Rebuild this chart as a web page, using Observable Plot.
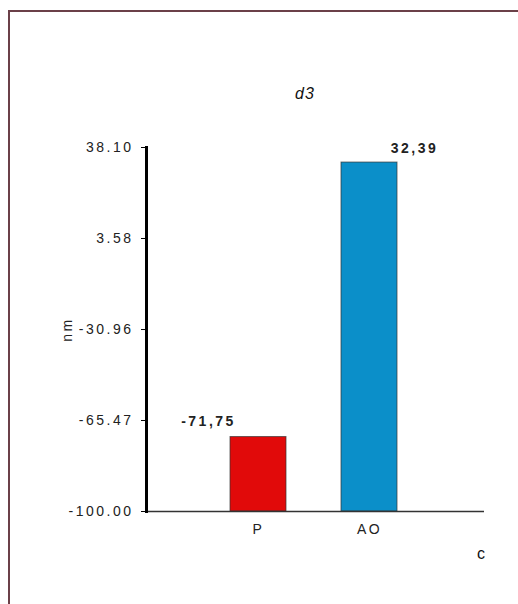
<!DOCTYPE html>
<html>
<head>
<meta charset="utf-8">
<script src="https://cdn.jsdelivr.net/npm/d3@7"></script>
<script src="https://cdn.jsdelivr.net/npm/@observablehq/plot@0.6"></script>
<style>
  html, body { margin: 0; padding: 0; background: #fff; width: 518px; height: 604px; overflow: hidden; }
  #frame { position: absolute; left: 8px; top: 10px; width: 520px; height: 600px;
           border-top: 2px solid #6b4048; border-left: 2px solid #6b4048; }
  #chart { position: absolute; left: 0; top: 0; }
  #title { position: absolute; left: 285px; top: 85px; width: 40px; text-align: center;
           font: italic 16px "Liberation Sans", Arial, sans-serif; color: #111; letter-spacing: 1px; }
  #corner { position: absolute; left: 477px; top: 545px;
            font: 16px "Liberation Sans", Arial, sans-serif; color: #111; }
</style>
</head>
<body>
<div id="frame"></div>
<div id="chart"></div>
<div id="title">d3</div>
<div id="corner">c</div>
<script>
const categories = ["P", "AO"];
const values = [-71.75, 32.39];
const valueLabels = ["-71,75", "32,39"];
const barColors = ["#e10a0a", "#0b8fc9"];
const yTicks = [38.10, 3.58, -30.96, -65.47, -100.00];
const yTickLabels = ["38.10", "3.58", "-30.96", "-65.47", "-100.00"];
const yLabel = "nm";

const data = categories.map((c, i) => ({cat: c, value: values[i], label: valueLabels[i], color: barColors[i]}));
const yMin = d3.min(yTicks), yMax = d3.max(yTicks);

const plot = Plot.plot({
  width: 518,
  height: 560,
  marginTop: 147,
  marginBottom: 49,
  marginLeft: 146,
  marginRight: 34,
  style: {fontFamily: "Liberation Sans, Arial, sans-serif", background: "transparent", letterSpacing: "2.5px"},
  x: {domain: categories, paddingInner: 0.5, paddingOuter: 0.76, align: 0.488},
  y: {domain: [yMin, yMax]},
  marks: [
    Plot.barY(data, {x: "cat", y1: () => yMin, y2: "value", fill: "color", stroke: "#333", strokeWidth: 1, strokeOpacity: 0.7}),
    Plot.ruleY([yMin], {stroke: "#333", strokeWidth: 1.5}),
    Plot.frame({anchor: "left", stroke: "#000", strokeWidth: 3}),
    Plot.axisY({ticks: yTicks, tickFormat: (d) => yTickLabels[yTicks.indexOf(d)], tickSize: 5, tickPadding: 8,
      fontSize: 14, fill: "#222", label: yLabel, labelAnchor: "center", labelOffset: 84, labelArrow: "none"}),
    Plot.axisX({tickSize: 0, tickPadding: 13, fontSize: 14, fill: "#222", label: null}),
    Plot.text(data.filter(d => d.cat === "P"), {x: "cat", y: "value", text: "label", dx: -50, dy: -16, fontSize: 14, fontWeight: "bold", fill: "#222"}),
    Plot.text(data.filter(d => d.cat === "AO"), {x: "cat", y: "value", text: "label", dx: 45, dy: -14, fontSize: 14, fontWeight: "bold", fill: "#222"})
  ]
});
document.getElementById("chart").appendChild(plot);
</script>
</body>
</html>
